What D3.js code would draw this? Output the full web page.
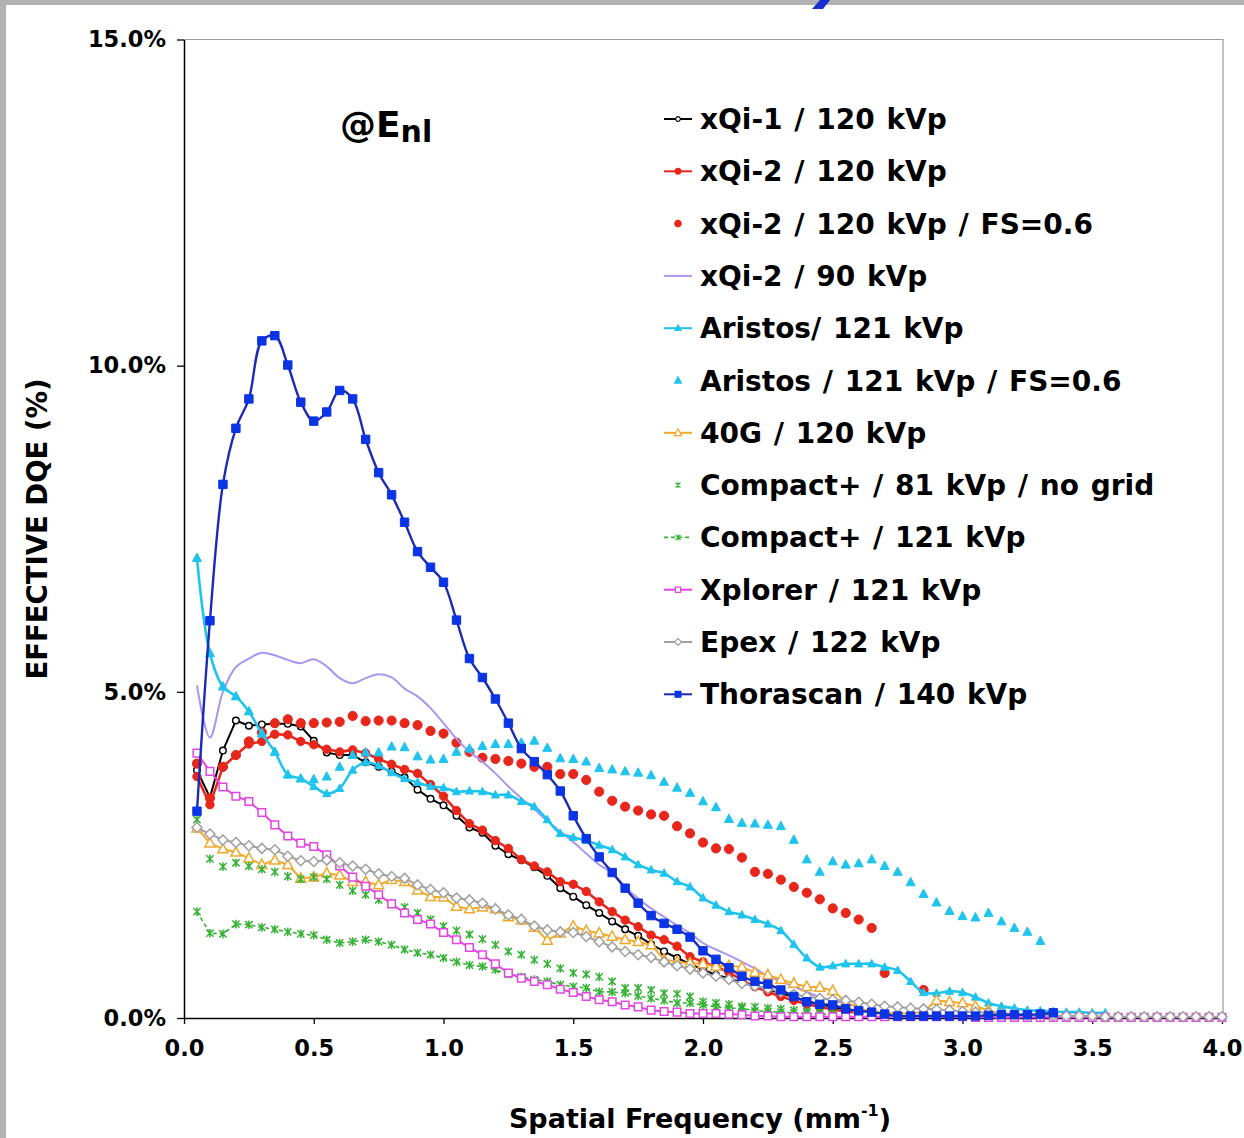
<!doctype html>
<html lang="en">
<head>
<meta charset="UTF-8" />
<title>Effective DQE vs Spatial Frequency</title>
<style>
  body { margin: 0; background: #fff; }
  svg text { font-family: 'DejaVu Sans', Verdana, sans-serif; font-weight: bold; fill: #000; }
</style>
</head>
<body>
<svg id="chart" width="1244" height="1138"></svg>
<script src="https://d3js.org/d3.v7.min.js"></script>
<script>
// spatial frequency samples (mm^-1)
const freq = [
  0.05, 0.10, 0.15, 0.20, 0.25, 0.30, 0.35, 0.40, 0.45, 0.50,
  0.55, 0.60, 0.65, 0.70, 0.75, 0.80, 0.85, 0.90, 0.95, 1.00,
  1.05, 1.10, 1.15, 1.20, 1.25, 1.30, 1.35, 1.40, 1.45, 1.50,
  1.55, 1.60, 1.65, 1.70, 1.75, 1.80, 1.85, 1.90, 1.95, 2.00,
  2.05, 2.10, 2.15, 2.20, 2.25, 2.30, 2.35, 2.40, 2.45, 2.50,
  2.55, 2.60, 2.65, 2.70, 2.75, 2.80, 2.85, 2.90, 2.95, 3.00,
  3.05, 3.10, 3.15, 3.20, 3.25, 3.30, 3.35, 3.40, 3.45, 3.50,
  3.55, 3.60, 3.65, 3.70, 3.75, 3.80, 3.85, 3.90, 3.95, 4.00
];

// effective DQE (%) per series, starting at freq[0]
const xqi1_120 = [
  3.80, 3.38, 4.10, 4.56, 4.48, 4.50, 4.51, 4.51, 4.47, 4.25,
  4.07, 4.03, 4.03, 3.92, 3.85, 3.78, 3.69, 3.50, 3.36, 3.26,
  3.10, 2.92, 2.84, 2.64, 2.51, 2.42, 2.31, 2.18, 1.99, 1.86,
  1.73, 1.61, 1.48, 1.36, 1.26, 1.13, 1.02, 0.92, 0.83, 0.74,
  0.66, 0.61, 0.54, 0.49, 0.44, 0.38, 0.32, 0.26, 0.21, 0.17,
  0.13, 0.10
];
const xqi2_120 = [
  3.70, 3.27, 3.85, 4.03, 4.20, 4.24, 4.35, 4.34, 4.24, 4.19,
  4.12, 4.08, 4.11, 4.06, 3.97, 3.89, 3.81, 3.75, 3.58, 3.40,
  3.18, 2.98, 2.88, 2.72, 2.60, 2.43, 2.33, 2.24, 2.09, 2.05,
  1.94, 1.78, 1.63, 1.50, 1.40, 1.27, 1.20, 1.10, 0.94, 0.86,
  0.79, 0.70, 0.58, 0.48, 0.40, 0.33, 0.27, 0.21, 0.17, 0.13,
  0.10, 0.08
];
const xqi2_120_fs = [
  3.90, 3.37, 3.85, 4.03, 4.24, 4.38, 4.52, 4.58, 4.52, 4.52,
  4.53, 4.54, 4.63, 4.55, 4.56, 4.56, 4.52, 4.49, 4.40, 4.36,
  4.22, 4.08, 3.99, 3.97, 3.94, 3.90, 3.85, 3.85, 3.74, 3.74,
  3.65, 3.47, 3.33, 3.24, 3.18, 3.12, 3.10, 2.94, 2.83, 2.69,
  2.60, 2.59, 2.46, 2.24, 2.21, 2.12, 2.01, 1.92, 1.82, 1.68,
  1.61, 1.51, 1.38, 0.69, null, null, 0.43
];
const xqi2_90 = [
  5.10, 4.30, 5.00, 5.38, 5.51, 5.60, 5.56, 5.49, 5.44, 5.50,
  5.39, 5.21, 5.13, 5.21, 5.27, 5.22, 5.05, 4.93, 4.75, 4.52,
  4.28, 4.08, 3.93, 3.75, 3.55, 3.37, 3.20, 3.02, 2.86, 2.70,
  2.52, 2.35, 2.22, 2.01, 1.83, 1.68, 1.55, 1.42, 1.30, 1.15,
  1.05, 0.96, 0.86, 0.76, 0.64, 0.56, 0.48, 0.40, 0.32, 0.27,
  0.22, 0.18
];
const aristos_121 = [
  7.05, 5.59, 5.08, 4.93, 4.70, 4.36, 4.08, 3.73, 3.67, 3.55,
  3.44, 3.52, 3.80, 3.92, 3.87, 3.76, 3.67, 3.61, 3.55, 3.53,
  3.47, 3.48, 3.47, 3.42, 3.42, 3.32, 3.24, 3.04, 2.83, 2.77,
  2.72, 2.65, 2.58, 2.47, 2.35, 2.27, 2.22, 2.09, 2.01, 1.84,
  1.73, 1.63, 1.58, 1.51, 1.44, 1.34, 1.13, 0.92, 0.78, 0.80,
  0.83, 0.83, 0.83, 0.78, 0.73, 0.56, 0.39, 0.38, 0.41, 0.39,
  0.32, 0.23, 0.18, 0.15, 0.12, 0.11, 0.10, 0.09, 0.09, 0.08,
  0.08
];
const aristos_121_fs = [
  7.05, 5.59, 5.08, 4.93, 4.70, 4.36, 4.08, 3.73, 3.67, 3.66,
  3.70, 3.85, 4.03, 4.07, 4.07, 4.16, 4.15, 4.01, 3.96, 3.97,
  4.08, 4.13, 4.17, 4.20, 4.20, 4.22, 4.25, 4.14, 3.98, 3.97,
  3.93, 3.83, 3.81, 3.78, 3.76, 3.72, 3.62, 3.53, 3.45, 3.32,
  3.23, 3.05, 2.99, 2.98, 2.96, 2.94, 2.73, 2.43, 2.24, 2.40,
  2.35, 2.37, 2.43, 2.33, 2.24, 2.08, 1.90, 1.77, 1.64, 1.56,
  1.54, 1.61, 1.48, 1.38, 1.32, 1.18
];
const g40_120 = [
  2.91, 2.68, 2.59, 2.54, 2.45, 2.35, 2.42, 2.35, 2.14, 2.16,
  2.22, 2.19, 2.09, 2.09, 2.04, 2.12, 2.09, 1.96, 1.86, 1.85,
  1.71, 1.67, 1.70, 1.67, 1.55, 1.50, 1.39, 1.19, 1.30, 1.41,
  1.34, 1.30, 1.25, 1.20, 1.17, 1.12, 0.90, 0.86, 0.84, 0.83,
  0.79, 0.80, 0.78, 0.70, 0.66, 0.59, 0.53, 0.48, 0.47, 0.42,
  0.25, 0.15, 0.10, 0.08, 0.07, 0.07, 0.10, 0.27, 0.25, 0.23,
  0.18, 0.12, 0.06, 0.04
];
const compact_81_nogrid = [
  3.04, 2.44, 2.32, 2.38, 2.33, 2.28, 2.24, 2.17, 2.13, 2.16,
  2.13, 2.04, 1.95, 1.89, 1.81, 1.76, 1.70, 1.61, 1.51, 1.41,
  1.34, 1.28, 1.21, 1.12, 1.02, 0.97, 0.89, 0.83, 0.76, 0.69,
  0.67, 0.63, 0.56, 0.46, 0.46, 0.43, 0.38, 0.37, 0.33, 0.25,
  0.23, 0.21, 0.18, 0.17, 0.15, 0.14, 0.12, 0.10, 0.09, 0.08
];
const compact_121 = [
  1.63, 1.30, 1.29, 1.44, 1.43, 1.39, 1.36, 1.32, 1.29, 1.27,
  1.20, 1.15, 1.17, 1.20, 1.17, 1.12, 1.05, 1.00, 0.97, 0.92,
  0.86, 0.81, 0.79, 0.74, 0.67, 0.63, 0.59, 0.56, 0.51, 0.48,
  0.46, 0.40, 0.40, 0.38, 0.34, 0.30, 0.27, 0.23, 0.23, 0.20,
  0.17, 0.15, 0.15, 0.11, 0.10, 0.09, 0.08, 0.07, 0.06, 0.05
];
const xplorer_121 = [
  4.06, 3.78, 3.54, 3.40, 3.32, 3.15, 2.96, 2.79, 2.68, 2.63,
  2.50, 2.33, 2.16, 2.02, 1.89, 1.75, 1.61, 1.51, 1.44, 1.31,
  1.20, 1.08, 0.97, 0.83, 0.69, 0.61, 0.56, 0.51, 0.44, 0.39,
  0.33, 0.28, 0.25, 0.20, 0.17, 0.12, 0.10, 0.09, 0.07, 0.07,
  0.07, 0.06, 0.05, 0.03, 0.03, 0.02, 0.02, 0.02, 0.02, 0.02,
  0.02, 0.02, 0.02, 0.02, 0.02, 0.02, 0.02, 0.02, 0.02, 0.02,
  0.01, 0.01, 0.01, 0.01, 0.01, 0.01, 0.01, 0.01, 0.01, 0.01,
  0.01, 0.01, 0.01, 0.01, 0.01, 0.01, 0.01, 0.01, 0.01, 0.01
];
const epex_122 = [
  2.92, 2.82, 2.73, 2.69, 2.64, 2.60, 2.58, 2.48, 2.41, 2.40,
  2.42, 2.38, 2.33, 2.28, 2.21, 2.17, 2.14, 2.04, 1.97, 1.92,
  1.84, 1.81, 1.76, 1.67, 1.58, 1.51, 1.41, 1.35, 1.32, 1.31,
  1.25, 1.17, 1.09, 1.02, 0.97, 0.93, 0.86, 0.80, 0.75, 0.69,
  0.64, 0.59, 0.53, 0.49, 0.45, 0.40, 0.36, 0.33, 0.30, 0.28,
  0.27, 0.24, 0.21, 0.18, 0.17, 0.15, 0.14, 0.13, 0.12, 0.10,
  0.09, 0.08, 0.07, 0.06, 0.05, 0.05, 0.04, 0.03, 0.03, 0.03,
  0.02, 0.02, 0.02, 0.02, 0.02, 0.02, 0.02, 0.02, 0.02, 0.02
];
const thorascan_140 = [
  3.17, 6.09, 8.18, 9.04, 9.49, 10.38, 10.46, 10.01, 9.44, 9.15,
  9.29, 9.62, 9.49, 8.87, 8.36, 8.02, 7.60, 7.15, 6.91, 6.68,
  6.10, 5.51, 5.22, 4.89, 4.52, 4.13, 3.93, 3.73, 3.48, 3.10,
  2.75, 2.47, 2.23, 1.99, 1.76, 1.57, 1.45, 1.36, 1.24, 1.03,
  0.90, 0.77, 0.64, 0.56, 0.52, 0.43, 0.33, 0.25, 0.21, 0.20,
  0.14, 0.11, 0.09, 0.06, 0.03, 0.03, 0.03, 0.03, 0.03, 0.03,
  0.03, 0.04, 0.05, 0.05, 0.05, 0.06, 0.08
];

const xTicks = [0, 0.5, 1, 1.5, 2, 2.5, 3, 3.5, 4];
const yTicks = [0, 5, 10, 15];

// series in drawing / legend order
const series = [
  { name: 'xQi-1 / 120 kVp', values: xqi1_120, color: '#000000', line: 2, marker: 'circle', size: 3.3, fill: '#ffffff', lw: 1.4 },
  { name: 'xQi-2 / 120 kVp', values: xqi2_120, color: '#e8271c', line: 2.6, marker: 'circle', size: 4.2, fill: '#e8271c' },
  { name: 'xQi-2 / 120 kVp / FS=0.6', values: xqi2_120_fs, color: '#e8271c', line: 0, marker: 'circle', size: 4.6, fill: '#e8271c' },
  { name: 'xQi-2 / 90 kVp', values: xqi2_90, color: '#a996f0', line: 2, marker: null, smooth: true },
  { name: 'Aristos/ 121 kVp', values: aristos_121, color: '#1ec4ee', line: 2.6, marker: 'triangle', size: 8, fill: '#1ec4ee', smooth: true },
  { name: 'Aristos / 121 kVp / FS=0.6', values: aristos_121_fs, color: '#1ec4ee', line: 0, marker: 'triangle', size: 9, fill: '#1ec4ee' },
  { name: '40G / 120 kVp', values: g40_120, color: '#f0a92e', line: 2, marker: 'triangle', size: 10, fill: '#ffffff', lw: 1.5 },
  { name: 'Compact+ / 81 kVp / no grid', values: compact_81_nogrid, color: '#33b233', line: 0, marker: 'star', size: 3.6, lw: 1.5 },
  { name: 'Compact+ / 121 kVp', values: compact_121, color: '#33b233', line: 1.6, dash: '4,3', marker: 'star', size: 3.6, lw: 1.5 },
  { name: 'Xplorer / 121 kVp', values: xplorer_121, color: '#e246e2', line: 2, marker: 'square', size: 3.8, fill: '#ffffff', lw: 1.5 },
  { name: 'Epex / 122 kVp', values: epex_122, color: '#a0a0a0', line: 2, marker: 'diamond', size: 5, fill: '#ffffff', lw: 1.5 },
  { name: 'Thorascan / 140 kVp', values: thorascan_140, color: '#1a2cb4', line: 2.4, marker: 'square', size: 4.2, fill: '#0a34e4', mcolor: '#0a34e4', smooth: true }
];

function markerPath(type, s) {
  if (type === 'circle') return `M${s},0A${s},${s},0,1,1,${-s},0A${s},${s},0,1,1,${s},0Z`;
  if (type === 'square') return `M${-s},${-s}h${2 * s}v${2 * s}h${-2 * s}Z`;
  if (type === 'diamond') return `M0,${-s}L${s},0L0,${s}L${-s},0Z`;
  if (type === 'triangle') return `M0,${-s * 0.55}L${s * 0.5},${s * 0.38}L${-s * 0.5},${s * 0.38}Z`;
  if (type === 'star') return `M${-s},${-s}L${s},${s}M${-s},${s}L${s},${-s}M0,${-s * 1.2}L0,${s * 1.2}`;
  return '';
}

const svg = d3.select('#chart');
const margin = { left: 184, right: 1223, top: 39.5, bottom: 1018 };

const x = d3.scaleLinear().domain([0, 4]).range([margin.left, 1222]);
const y = d3.scaleLinear().domain([0, 15]).range([margin.bottom, margin.top]);

svg.append('rect').attr('width', 1244).attr('height', 1138).attr('fill', '#fff');

// plot frame (top / right in gray)
svg.append('path')
  .attr('d', `M${x(0)},${y(15)}H${x(4) + 1}V${y(0)}`)
  .attr('fill', 'none').attr('stroke', '#9a9a9a').attr('stroke-width', 1.2);

// axes
const yAxis = d3.axisLeft(y).tickValues(yTicks).tickFormat(d => d.toFixed(1) + '%').tickSize(7).tickSizeOuter(0).tickPadding(11);
const xAxis = d3.axisBottom(x).tickValues(xTicks).tickFormat(d3.format('.1f')).tickSize(6).tickSizeOuter(0).tickPadding(16);

const gy = svg.append('g').attr('transform', `translate(${x(0)},0)`).call(yAxis);
const gx = svg.append('g').attr('transform', `translate(0,${y(0)})`).call(xAxis);
[gx, gy].forEach(g => {
  g.select('.domain').attr('stroke', '#000').attr('stroke-width', 1.5);
  g.selectAll('.tick line').attr('stroke', '#000').attr('stroke-width', 1.3);
  g.selectAll('.tick text').attr('font-size', 22.5).attr('font-family', "'DejaVu Sans', Verdana, sans-serif").attr('font-weight', 'bold').attr('fill', '#000');
});

// series
const plot = svg.append('g');
series.forEach(s => {
  const pts = s.values.map((v, i) => ({ f: freq[i], v }));
  const g = plot.append('g');
  if (s.line) {
    const line = d3.line()
      .defined(d => d.v != null)
      .x(d => x(d.f)).y(d => y(d.v))
      .curve(s.smooth ? d3.curveCatmullRom.alpha(0.5) : d3.curveLinear);
    g.append('path').datum(pts)
      .attr('d', line)
      .attr('fill', 'none')
      .attr('stroke', s.color)
      .attr('stroke-width', s.line)
      .attr('stroke-dasharray', s.dash || null)
      .attr('stroke-linejoin', 'round');
  }
  if (s.marker) {
    const mc = s.mcolor || s.color;
    g.selectAll('path.m').data(pts.filter(d => d.v != null)).join('path')
      .attr('class', 'm')
      .attr('transform', d => `translate(${x(d.f)},${y(d.v)})`)
      .attr('d', markerPath(s.marker, s.size))
      .attr('fill', s.marker === 'star' ? 'none' : s.fill)
      .attr('stroke', mc)
      .attr('stroke-width', s.lw || 1);
  }
});

// legend
const legend = svg.append('g');
series.forEach((s, i) => {
  const ly = 119 + i * 52.3;
  const row = legend.append('g').attr('transform', `translate(0,${ly})`);
  if (s.line) {
    row.append('line').attr('x1', 664).attr('x2', 692).attr('y1', 0).attr('y2', 0)
      .attr('stroke', s.color).attr('stroke-width', Math.min(s.line, 2))
      .attr('stroke-dasharray', s.dash || null);
  }
  if (s.marker) {
    row.append('path').attr('transform', 'translate(678,0)')
      .attr('d', markerPath(s.marker, s.marker === 'triangle' ? s.size * 0.75 : s.size * 0.7))
      .attr('fill', s.marker === 'star' ? 'none' : s.fill)
      .attr('stroke', s.mcolor || s.color)
      .attr('stroke-width', 1.2);
  }
  row.append('text').attr('x', 700).attr('y', 10).attr('font-size', 28)
    .attr('word-spacing', 2).text(s.name);
});

// annotation
const ann = svg.append('text').attr('x', 340).attr('y', 137).attr('font-size', 36);
ann.append('tspan').text('@E');
ann.append('tspan').attr('font-size', 30).attr('dy', 5).text('nl');

// axis titles
svg.append('text')
  .attr('transform', 'translate(47,529) rotate(-90)')
  .attr('text-anchor', 'middle')
  .attr('font-size', 27.5)
  .text('EFFECTIVE DQE (%)');

const xt = svg.append('text').attr('x', 700).attr('y', 1128).attr('text-anchor', 'middle').attr('font-size', 27);
xt.append('tspan').text('Spatial Frequency (mm');
xt.append('tspan').attr('font-size', 16).attr('dy', -12).text('-1');
xt.append('tspan').attr('dy', 12).text(')');

// slide frame remnants (gray border and the tail of a cut-off title glyph)
svg.append('rect').attr('x', 0).attr('y', 0).attr('width', 6).attr('height', 1138).attr('fill', '#b2b2b2');
svg.append('rect').attr('x', 0).attr('y', 0).attr('width', 1244).attr('height', 5).attr('fill', '#b2b2b2');
svg.append('path').attr('d', 'M820,0L830,0L823,9L812,9Z').attr('fill', '#1a2fd0');
</script>
</body>
</html>
